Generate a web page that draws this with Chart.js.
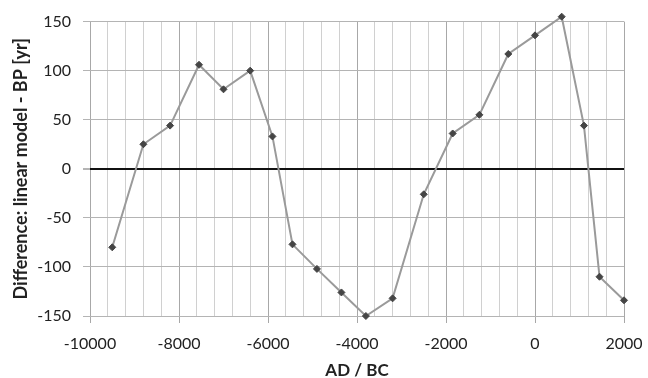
<!DOCTYPE html>
<html>
<head>
<meta charset="utf-8">
<script src="https://cdn.jsdelivr.net/npm/chart.js@4/dist/chart.umd.min.js"></script>
<style>
  html, body { margin: 0; padding: 0; background: #fff; }
  #wrap { width: 648px; height: 378px; }
</style>
</head>
<body>
<div id="wrap"><canvas id="chartDiff" width="648" height="378"></canvas></div>
<script>
// data
var years = [-9500, -8800, -8200, -7550, -7000, -6400, -5900, -5450, -4900, -4350,
             -3800, -3200, -2500, -1850, -1250, -600, 0, 600, 1100, 1450, 2000];
var diffs = [-80, 25, 44, 106, 81, 100, 33, -77, -102, -126,
             -150, -132, -26, 36, 55, 117, 136, 155, 44, -110, -134];
var yTicks = [-150, -100, -50, 0, 50, 100, 150];
var xMajor = [-10000, -8000, -6000, -4000, -2000, 0, 2000];

var points = years.map(function (x, i) { return { x: x, y: diffs[i] }; });

Chart.defaults.font.family = 'Lato, "Open Sans", sans-serif';
Chart.defaults.color = '#222';

var ctx = document.getElementById('chartDiff').getContext('2d');
var chartDiff = new Chart(ctx, {
    type: 'scatter',
    data: {
        datasets: [{
            data: points,
            showLine: true,
            borderColor: '#9a9a9a',
            borderWidth: 2,
            pointStyle: 'rectRot',
            pointRadius: 3.5,
            pointBackgroundColor: '#454545',
            pointBorderColor: '#454545',
            pointBorderWidth: 1,
            clip: false
        }]
    },
    options: {
        responsive: false,
        animation: false,
        layout: { padding: { top: 19, right: 24, left: 0, bottom: 0 } },
        plugins: {
            legend: { display: false },
            tooltip: { enabled: false }
        },
        scales: {
            x: {
                type: 'linear',
                min: -10000,
                max: 2000,
                ticks: {
                    stepSize: 400,
                    autoSkip: false,
                    maxRotation: 0,
                    font: { size: 16 },
                    padding: 11,
                    callback: function (v) {
                        return xMajor.indexOf(v) >= 0 ? String(v) : '';
                    }
                },
                grid: {
                    color: function (c) {
                        return xMajor.indexOf(c.tick.value) >= 0 ? '#a8a8a8' : '#d0d0d0';
                    },
                    tickColor: function (c) {
                        return xMajor.indexOf(c.tick.value) >= 0 ? '#a8a8a8' : 'rgba(0,0,0,0)';
                    },
                    tickLength: 7,
                    lineWidth: 1
                },
                border: { display: false },
                title: {
                    display: true,
                    text: 'AD / BC',
                    font: { size: 17, weight: 'bold' },
                    padding: { top: 4, bottom: -3 }
                },
                afterFit: function (scale) {
                    scale.height = 62;
                    scale.paddingLeft = 0;
                    scale.paddingRight = 0;
                }
            },
            y: {
                min: -150,
                max: 150,
                afterBuildTicks: function (scale) {
                    scale.ticks = yTicks.map(function (v) { return { value: v }; });
                },
                ticks: {
                    font: { size: 16 },
                    padding: 12
                },
                grid: {
                    color: function (c) {
                        return c.tick.value === 0 ? '#111' : '#b4b4b4';
                    },
                    lineWidth: function (c) {
                        return c.tick.value === 0 ? 2 : 1;
                    },
                    tickColor: '#b4b4b4',
                    tickLength: 7
                },
                border: { display: false },
                title: {
                    display: true,
                    text: 'Difference: linear model - BP [yr]',
                    font: { size: 18, weight: 'bold' },
                    padding: { top: 10, bottom: 4 }
                },
                afterFit: function (scale) { scale.width = 90; }
            }
        }
    }
});
</script>
</body>
</html>
